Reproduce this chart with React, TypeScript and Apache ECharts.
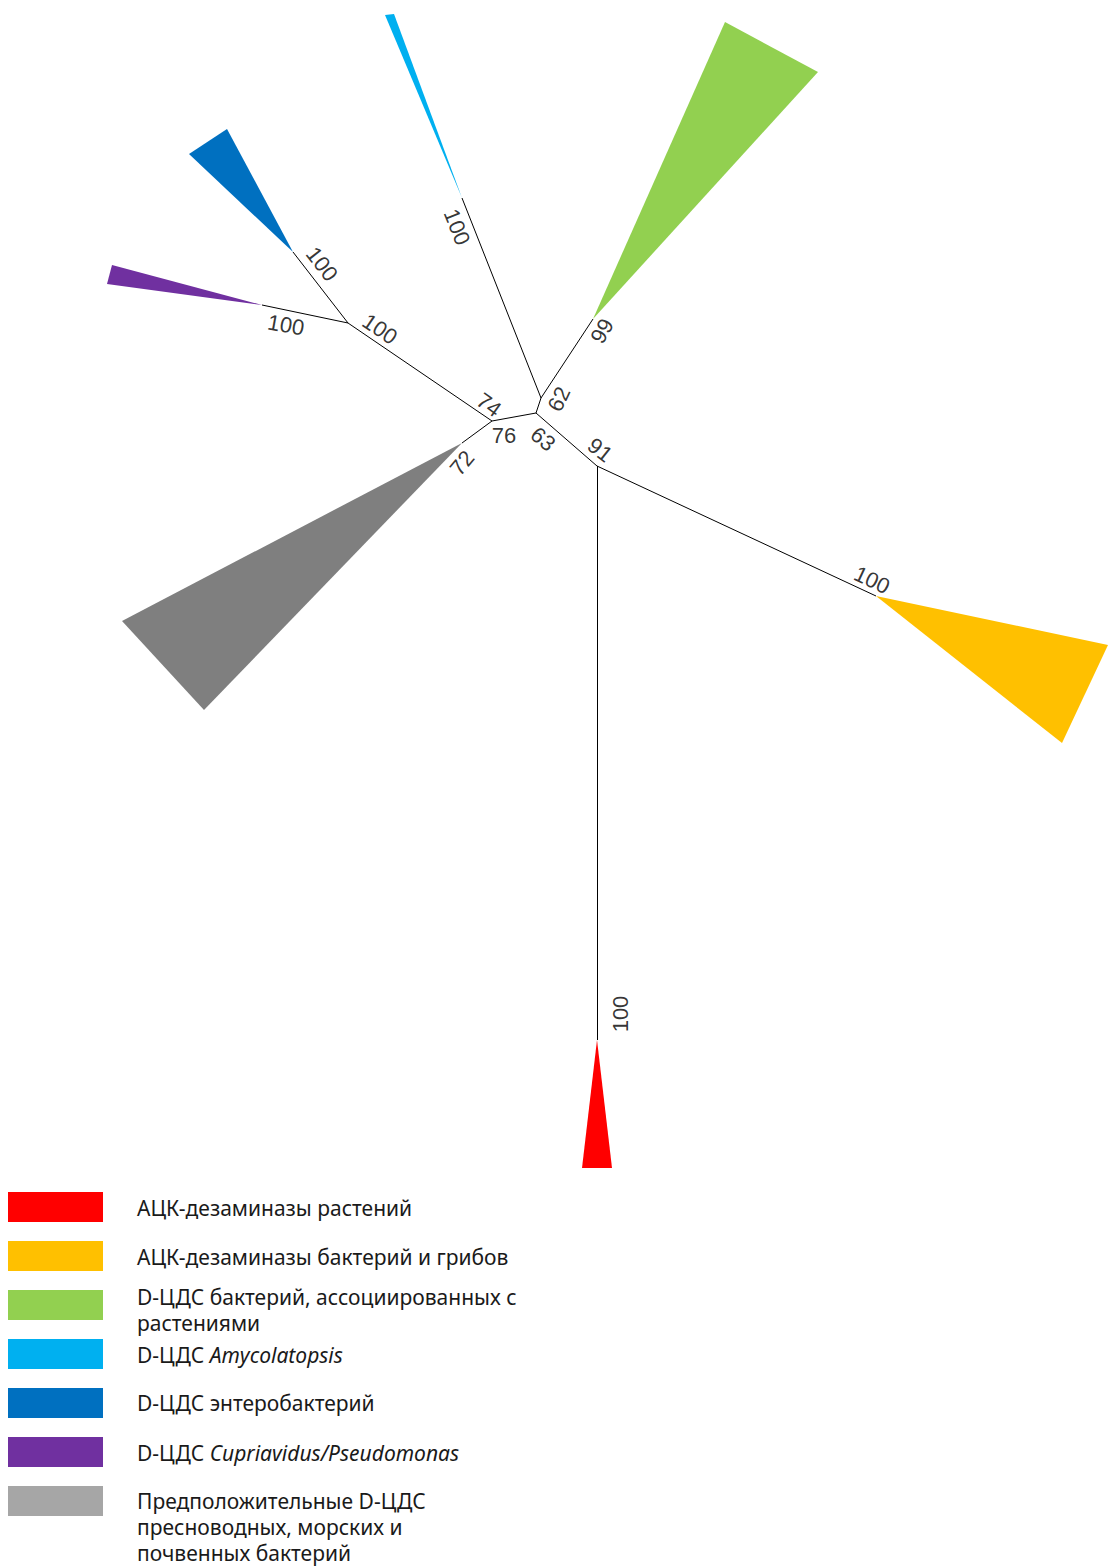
import React, { useEffect, useRef } from "react";
import * as echarts from "echarts";

// Tree nodes (chart units, y grows downward)
const nodeNames = ["A", "B", "C", "D", "E", "cyanTip", "greenTip", "grayTip", "blueTip", "purpleTip", "orangeTip", "redTip"];
const nodeX = [536, 541, 492, 597, 348, 462, 593, 462, 293, 262, 876, 597];
const nodeY = [413, 398, 421, 466, 323, 198, 319, 443, 252, 305, 596, 1040];

// Branches as pairs of node names
const branchFrom = ["A", "B", "B", "A", "A", "C", "C", "E", "E", "D", "D"];
const branchTo = ["B", "cyanTip", "greenTip", "C", "D", "E", "grayTip", "blueTip", "purpleTip", "orangeTip", "redTip"];

// Collapsed clades: apex node + two far corners
const cladeApex = ["redTip", "orangeTip", "greenTip", "cyanTip", "blueTip", "purpleTip", "grayTip"];
const cladeX1 = [582, 1108, 725, 385, 189, 107, 122];
const cladeY1 = [1168, 645, 22, 15, 154, 284, 621];
const cladeX2 = [612, 1062, 818, 394, 227, 112, 204];
const cladeY2 = [1168, 743, 72, 14, 129, 265, 710];
const cladeColors = ["#ff0000", "#ffc000", "#92d050", "#00b0f0", "#0070c0", "#7030a0", "#7f7f7f"];

// Bootstrap support labels
const supportText = ["100", "100", "100", "100", "74", "76", "72", "62", "63", "91", "99", "100", "100"];
const supportX = [457, 322, 286, 380, 489, 504, 462, 559, 543, 600, 602, 872, 620];
const supportY = [227, 264, 325, 329, 405, 435, 463, 399, 439, 450, 331, 580, 1014];
const supportRot = [-68, -52, -10, -34, -36, 0, 50, 65, -40, -38, 60, -25, 90];

// Legend
const legendColors = ["#ff0000", "#ffc000", "#92d050", "#00b0f0", "#0070c0", "#7030a0", "#a6a6a6"];
const legendLabels = [
  "АЦК-дезаминазы растений",
  "АЦК-дезаминазы бактерий и грибов",
  "D-ЦДС бактерий, ассоциированных с\nрастениями",
  "D-ЦДС {i|Amycolatopsis}",
  "D-ЦДС энтеробактерий",
  "D-ЦДС {i|Cupriavidus/Pseudomonas}",
  "Предположительные D-ЦДС\nпресноводных, морских и\nпочвенных бактерий",
];
// first-line centre of each legend text (layout)
const legendTextY = [1208, 1257, 1297, 1355, 1403, 1453, 1501];

const W = 1108;
const H = 1566;

function nodeIdx(n: string) {
  return nodeNames.indexOf(n);
}

export default function App() {
  const ref = useRef<HTMLDivElement>(null);
  useEffect(() => {
    document.body.style.margin = "0";
    if (!ref.current) return;
    const chart = echarts.init(ref.current, null, { renderer: "svg" });

    const branchData = branchFrom.map((f, i) => {
      const a = nodeIdx(f);
      const b = nodeIdx(branchTo[i]);
      return { coords: [[nodeX[a], nodeY[a]], [nodeX[b], nodeY[b]]] };
    });

    const cladeData = cladeApex.map((n, i) => {
      const a = nodeIdx(n);
      return [nodeX[a], nodeY[a], cladeX1[i], cladeY1[i], cladeX2[i], cladeY2[i], i];
    });

    const labelData = supportText.map((t, i) => ({
      value: [supportX[i], supportY[i]],
      label: { formatter: t, rotate: supportRot[i] },
    }));

    const legendTop = 1192;
    const legendStep = 49;
    const lineH = 26;
    const graphics: any[] = [];
    legendColors.forEach((c, i) => {
      graphics.push({
        type: "rect",
        shape: { x: 8, y: legendTop + i * legendStep, width: 95, height: 30 },
        style: { fill: c },
      });
      graphics.push({
        type: "text",
        x: 137,
        y: legendTextY[i] - lineH / 2,
        style: {
          text: legendLabels[i],
          fill: "#1a1a1a",
          font: "21px 'Noto Sans'",
          lineHeight: lineH,
          verticalAlign: "top",
          rich: {
            i: { fontStyle: "italic", fontSize: 21, fontFamily: "Noto Sans", fill: "#1a1a1a", lineHeight: lineH },
          },
        },
      });
    });

    chart.setOption({
      animation: false,
      backgroundColor: "#ffffff",
      grid: { left: 0, right: 0, top: 0, bottom: 0 },
      xAxis: { type: "value", min: 0, max: W, show: false },
      yAxis: { type: "value", min: 0, max: H, inverse: true, show: false },
      series: [
        {
          type: "custom",
          coordinateSystem: "cartesian2d",
          data: cladeData,
          encode: { x: [0, 2, 4], y: [1, 3, 5] },
          renderItem: (params: any, api: any) => {
            const p0 = api.coord([api.value(0), api.value(1)]);
            const p1 = api.coord([api.value(2), api.value(3)]);
            const p2 = api.coord([api.value(4), api.value(5)]);
            return {
              type: "polygon",
              shape: { points: [p0, p1, p2] },
              style: { fill: cladeColors[api.value(6)] },
            };
          },
          z: 1,
        },
        {
          type: "lines",
          coordinateSystem: "cartesian2d",
          data: branchData,
          lineStyle: { color: "#000000", width: 1, opacity: 1 },
          z: 2,
        },
        {
          type: "scatter",
          data: labelData,
          symbolSize: 0,
          label: {
            show: true,
            position: "inside",
            color: "#000000",
            textBorderWidth: 0,
            fontFamily: "Liberation Sans",
            fontSize: 22,
            align: "center",
            verticalAlign: "middle",
          },
          z: 3,
        },
      ],
      graphic: graphics,
    });
    return () => chart.dispose();
  }, []);
  return <div ref={ref} style={{ width: W, height: H }} />;
}
